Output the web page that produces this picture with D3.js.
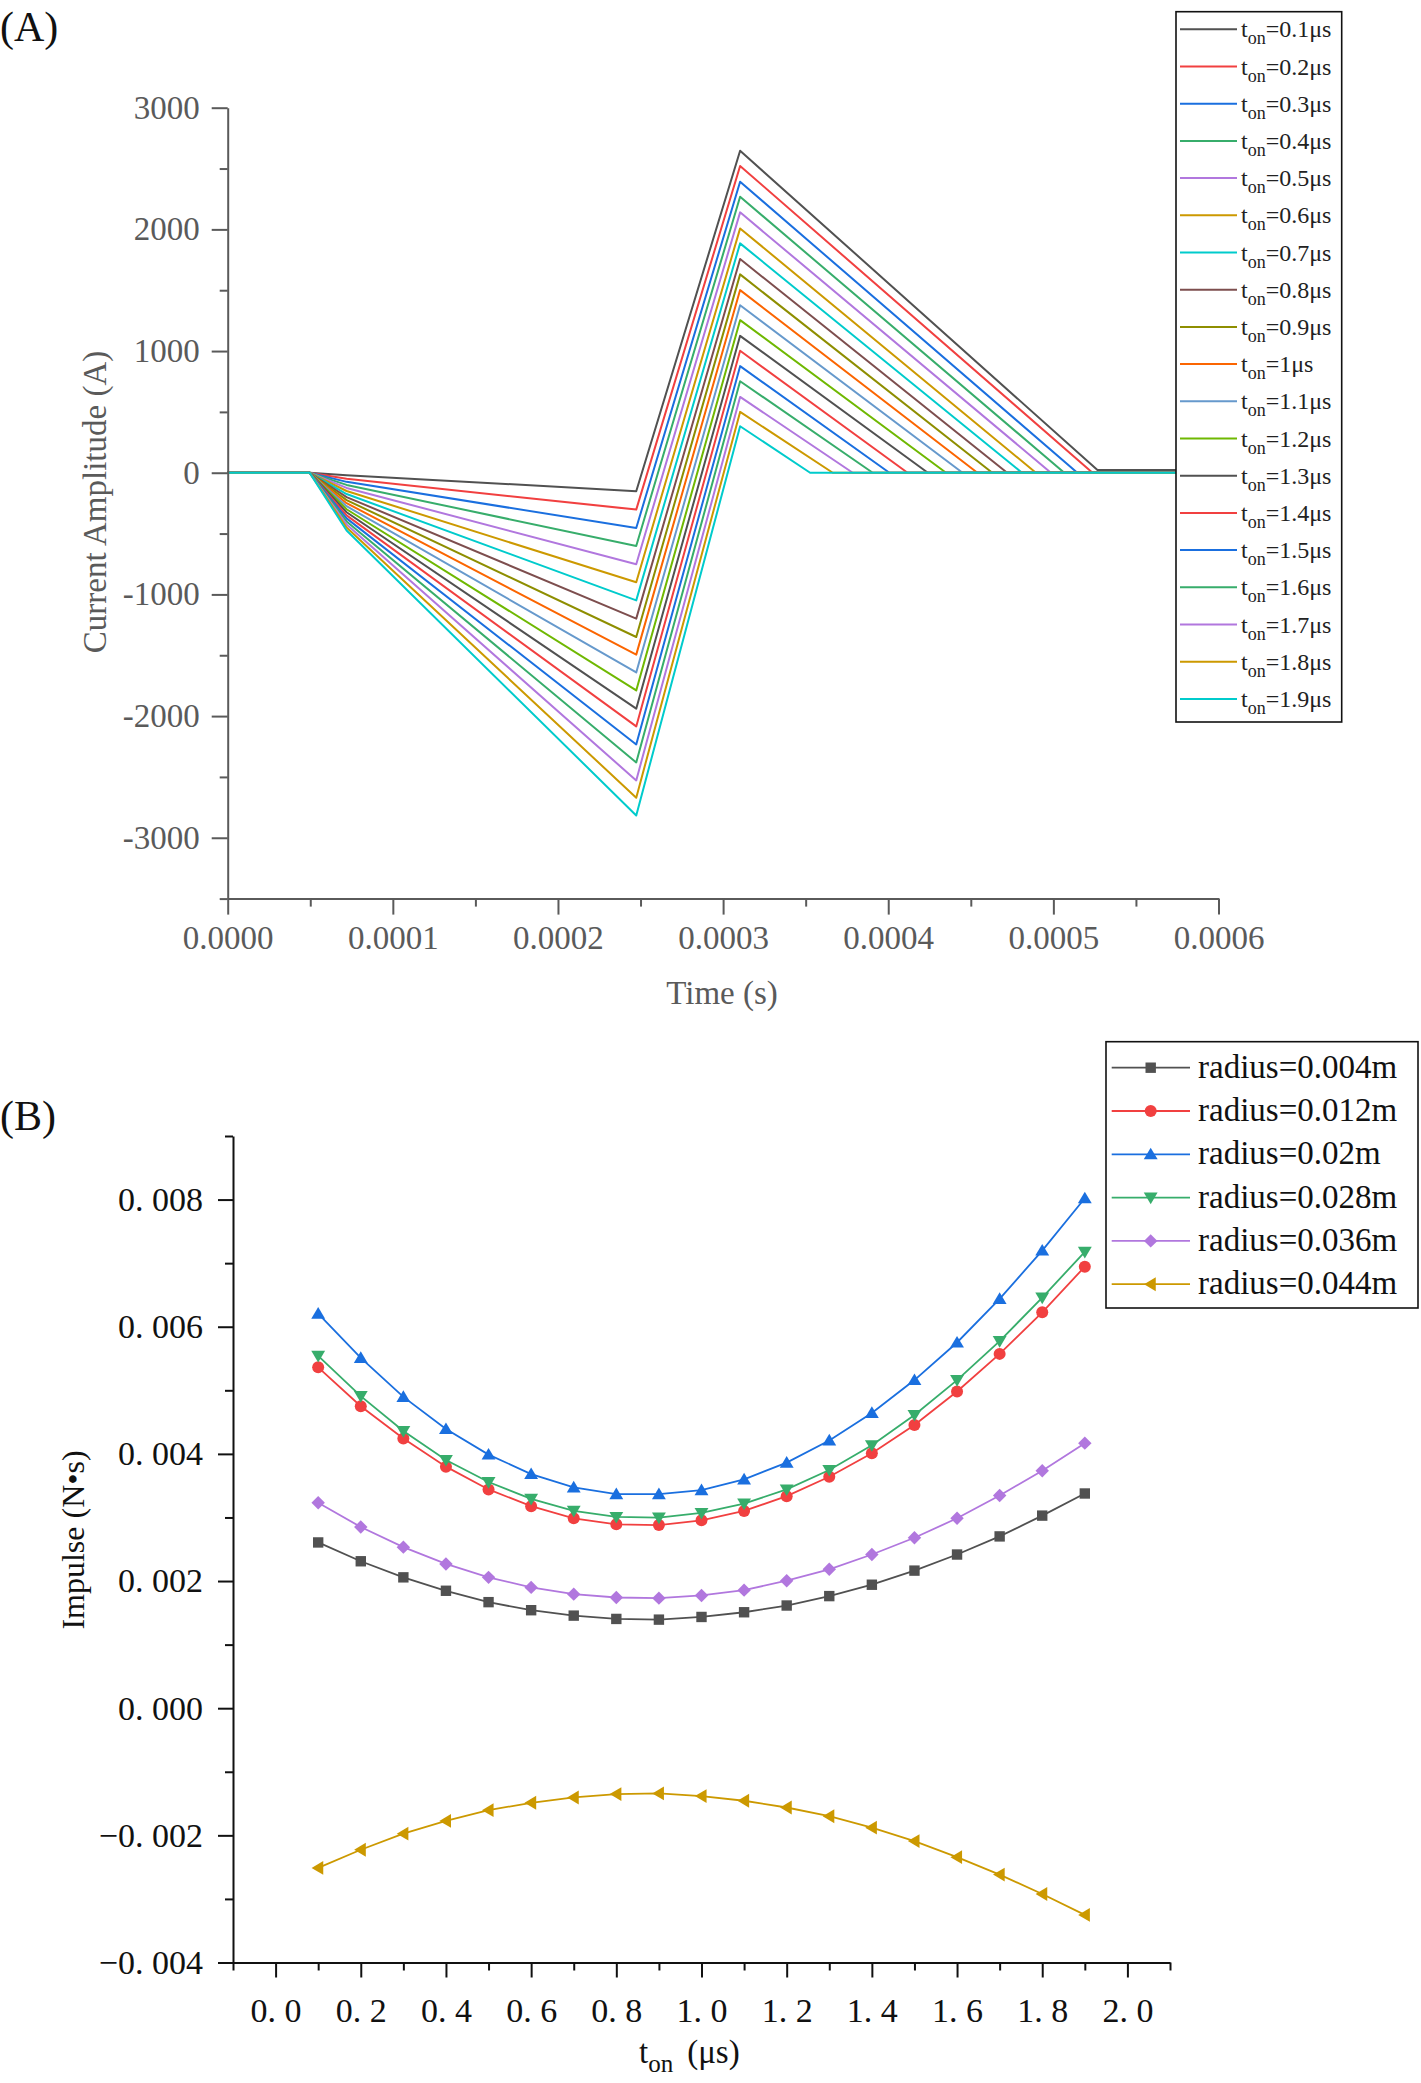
<!DOCTYPE html>
<html><head><meta charset="utf-8">
<script src="https://cdn.jsdelivr.net/npm/d3@7"></script>
<style>
body{margin:0;background:#fff}
svg{display:block}
text{font-family:"Liberation Serif","Times New Roman",serif}
</style>
</head><body>
<svg id="c" width="1421" height="2083"></svg>
<script>
// ---------- shared palette (Origin default line colours) ----------
const palette = ["#515151","#F14040","#1A6FDF","#37AD6B","#B177DE","#CC9900","#00CBCC","#7D4E4E","#8E8E00","#FB6501","#6699CC","#6FB802"];

// ---------- Panel A data ----------
const tonLabelsA = ["0.1","0.2","0.3","0.4","0.5","0.6","0.7","0.8","0.9","1","1.1","1.2","1.3","1.4","1.5","1.6","1.7","1.8","1.9"];
const onsetTime = 0.0000496;
const kneeTime = 0.000072;
const bottomTime = 0.0002474;
const peakTime = 0.0003103;
const lastTime = 0.0006;
const kneeCurrent = [-20,-50,-75,-100,-125,-150,-175,-200,-225,-250,-275,-300,-325,-350,-375,-400,-425,-450,-475];
const minCurrent  = [-152,-303,-454,-602,-752,-900,-1049,-1199,-1350,-1495,-1641,-1789,-1939,-2085,-2233,-2381,-2529,-2671,-2817];
const peakCurrent = [2646,2521,2391,2268,2140,2008,1885,1756,1630,1501,1377,1254,1125,1002,876,752,623,500,382];
const zeroTime    = [0.0005267,0.0005237,0.0005145,0.0005066,0.0004985,0.0004894,0.0004810,0.0004720,0.0004630,0.0004540,0.0004450,0.0004350,0.0004240,0.0004117,0.0004007,0.0003906,0.0003785,0.0003664,0.0003527];
const tailCurrent = [22,0,0,0,0,0,0,0,0,0,0,0,0,0,0,0,0,0,0];
const xTicksA = [0,0.0001,0.0002,0.0003,0.0004,0.0005,0.0006];
const xMinorA = [0.00005,0.00015,0.00025,0.00035,0.00045,0.00055];
const yTicksA = [-3000,-2000,-1000,0,1000,2000,3000];
const yMinorA = [-3500,-2500,-1500,-500,500,1500,2500];

// ---------- Panel B data ----------
const tonB = [0.1,0.2,0.3,0.4,0.5,0.6,0.7,0.8,0.9,1.0,1.1,1.2,1.3,1.4,1.5,1.6,1.7,1.8,1.9];
const radiusLabels = ["radius=0.004m","radius=0.012m","radius=0.02m","radius=0.028m","radius=0.036m","radius=0.044m"];
const impulseR004 = [0.002607,0.002311,0.002058,0.001847,0.001668,0.001541,0.001456,0.001404,0.001393,0.001435,0.001509,0.001615,0.001763,0.001942,0.002164,0.002417,0.002702,0.003029,0.003377];
const impulseR012 = [0.005362,0.004749,0.004243,0.003799,0.003441,0.003177,0.002987,0.002892,0.002881,0.002955,0.003103,0.003335,0.003641,0.004011,0.004454,0.004982,0.005573,0.006227,0.006945];
const impulseR020 = [0.006206,0.005509,0.004897,0.004391,0.003989,0.003683,0.003472,0.003367,0.003367,0.003430,0.003599,0.003863,0.004211,0.004644,0.005161,0.005752,0.006438,0.007198,0.008021];
const impulseR028 = [0.005541,0.004908,0.004359,0.003905,0.003557,0.003293,0.003103,0.003008,0.002997,0.003071,0.003219,0.003441,0.003747,0.004137,0.004612,0.005161,0.005773,0.006459,0.007177];
const impulseR036 = [0.003230,0.002850,0.002533,0.002269,0.002058,0.001900,0.001794,0.001741,0.001731,0.001773,0.001857,0.002005,0.002185,0.002417,0.002681,0.002987,0.003346,0.003736,0.004169];
const impulseR044 = [-0.002512,-0.002227,-0.001974,-0.001773,-0.001604,-0.001488,-0.001404,-0.001351,-0.001340,-0.001383,-0.001456,-0.001562,-0.001699,-0.001879,-0.002090,-0.002343,-0.002617,-0.002923,-0.003251];
const markerShapes = ["square","circle","triangleUp","triangleDown","diamond","triangleLeft"];
const xTicksB = [0,0.2,0.4,0.6,0.8,1.0,1.2,1.4,1.6,1.8,2.0];
const xMinorB = [-0.1,0.1,0.3,0.5,0.7,0.9,1.1,1.3,1.5,1.7,1.9,2.1];
const yTicksB = [-0.004,-0.002,0,0.002,0.004,0.006,0.008];
const yMinorB = [-0.003,-0.001,0.001,0.003,0.005,0.007,0.009];

const svg = d3.select("#c");

// ================= PANEL A =================
const axA = "#5a5a5a";
const xA = d3.scaleLinear().domain([0,0.0006]).range([227.7,1218.5]);
const yA = d3.scaleLinear().domain([-3500,3000]).range([898.6,107.7]);

svg.append("text").attr("x",0).attr("y",41).attr("font-size",42).attr("fill","#111").text("(A)");

const gA = svg.append("g");
const seriesA = tonLabelsA.map((lab,i)=>[
  [0,0],[onsetTime,0],[kneeTime,kneeCurrent[i]],[bottomTime,minCurrent[i]],
  [peakTime,peakCurrent[i]],[zeroTime[i],tailCurrent[i]],[lastTime,tailCurrent[i]]
]);
const lineA = d3.line().x(d=>xA(d[0])).y(d=>yA(d[1]));
seriesA.forEach((pts,i)=>{
  gA.append("path").attr("d",lineA(pts)).attr("fill","none")
    .attr("stroke",palette[i%12]).attr("stroke-width",2).attr("stroke-linejoin","round");
});

function styleAxis(g,color,fs){
  g.select(".domain").attr("stroke",color).attr("stroke-width",2);
  g.selectAll(".tick line").attr("stroke",color).attr("stroke-width",2);
  g.selectAll(".tick text").attr("fill",color).attr("font-size",fs)
    .attr("font-family","'Liberation Serif','Times New Roman',serif");
}
// A axes
const yAxA = svg.append("g").attr("transform",`translate(${xA(0)},0)`)
  .call(d3.axisLeft(yA).tickValues(yTicksA).tickSize(16).tickSizeOuter(0).tickPadding(12).tickFormat(d=>String(d)));
styleAxis(yAxA,axA,33);
const yAxAm = svg.append("g").attr("transform",`translate(${xA(0)},0)`)
  .call(d3.axisLeft(yA).tickValues(yMinorA).tickSize(8).tickSizeOuter(0).tickFormat(""));
styleAxis(yAxAm,axA,33); yAxAm.select(".domain").remove();
const xAxA = svg.append("g").attr("transform",`translate(0,${yA(-3500)})`)
  .call(d3.axisBottom(xA).tickValues(xTicksA).tickSize(16).tickSizeOuter(0).tickPadding(11).tickFormat(d=>d.toFixed(4)));
styleAxis(xAxA,axA,33);
const xAxAm = svg.append("g").attr("transform",`translate(0,${yA(-3500)})`)
  .call(d3.axisBottom(xA).tickValues(xMinorA).tickSize(8).tickSizeOuter(0).tickFormat(""));
styleAxis(xAxAm,axA,33); xAxAm.select(".domain").remove();

svg.append("text").attr("x",722).attr("y",1004).attr("text-anchor","middle")
  .attr("font-size",33).attr("fill",axA).text("Time (s)");
svg.append("text").attr("transform","translate(106,502) rotate(-90)").attr("text-anchor","middle")
  .attr("font-size",33).attr("fill",axA).text("Current Amplitude (A)");

// A legend
const legA = svg.append("g");
const legAy = d3.scaleLinear().domain([0,18]).range([29.3,698.9]);
legA.append("rect").attr("x",1176).attr("y",11.7).attr("width",165.7).attr("height",710.3)
  .attr("fill","#fff").attr("stroke","#111").attr("stroke-width",1.6);
tonLabelsA.forEach((lab,i)=>{
  const y = legAy(i);
  legA.append("line").attr("x1",1180).attr("x2",1237).attr("y1",y).attr("y2",y)
    .attr("stroke",palette[i%12]).attr("stroke-width",2);
  const t = legA.append("text").attr("x",1241).attr("y",y+8).attr("font-size",24).attr("fill","#222");
  t.append("tspan").text("t");
  t.append("tspan").attr("font-size",18).attr("dy",7).text("on");
  t.append("tspan").attr("dy",-7).text("=" + lab + "μs");
});

// ================= PANEL B =================
const xB = d3.scaleLinear().domain([-0.1,2.1]).range([233,1170]);
const yB = d3.scaleLinear().domain([-0.004,0.009]).range([1962.5,1136]);

svg.append("text").attr("x",0).attr("y",1130).attr("font-size",42).attr("fill","#111").text("(B)");

const seriesB = [impulseR004,impulseR012,impulseR020,impulseR028,impulseR036,impulseR044];

function markerPath(shape,r){
  switch(shape){
    case "square": return `M${-r},${-r}H${r}V${r}H${-r}Z`;
    case "circle": return d3.symbol(d3.symbolCircle, Math.PI*r*r)();
    case "triangleUp": return `M0,${-r*1.05}L${r*1.1},${r*0.8}L${-r*1.1},${r*0.8}Z`;
    case "triangleDown": return `M0,${r*1.05}L${r*1.1},${-r*0.8}L${-r*1.1},${-r*0.8}Z`;
    case "diamond": return `M0,${-r*1.2}L${r*1.2},0L0,${r*1.2}L${-r*1.2},0Z`;
    case "triangleLeft": return `M${-r*1.05},0L${r*0.8},${-r*1.1}L${r*0.8},${r*1.1}Z`;
  }
}
const markerR = [5.2,6,6.3,6.3,5.6,6.3];

const gB = svg.append("g");
const lineB = d3.line().x((d,i)=>xB(tonB[i])).y(d=>yB(d));
seriesB.forEach((vals,k)=>{
  const col = palette[k];
  gB.append("path").attr("d",lineB(vals)).attr("fill","none").attr("stroke",col).attr("stroke-width",1.8);
  gB.selectAll(null).data(vals).enter().append("path")
    .attr("d",markerPath(markerShapes[k],markerR[k]))
    .attr("transform",(d,i)=>`translate(${xB(tonB[i])},${yB(d)})`)
    .attr("fill",col);
});

// B axes
const fmtY = d => (d<0?"\u2212":"") + "0. " + Math.abs(d).toFixed(3).slice(2);
const fmtX = d => d.toFixed(1).replace(".",". ");
const yAxB = svg.append("g").attr("transform",`translate(${xB(-0.1)},0)`)
  .call(d3.axisLeft(yB).tickValues(yTicksB).tickSize(15).tickSizeOuter(0).tickPadding(15).tickFormat(fmtY));
styleAxis(yAxB,"#111",34);
const yAxBm = svg.append("g").attr("transform",`translate(${xB(-0.1)},0)`)
  .call(d3.axisLeft(yB).tickValues(yMinorB).tickSize(8).tickSizeOuter(0).tickFormat(""));
styleAxis(yAxBm,"#111",34); yAxBm.select(".domain").remove();
const xAxB = svg.append("g").attr("transform",`translate(0,${yB(-0.004)})`)
  .call(d3.axisBottom(xB).tickValues(xTicksB).tickSize(15).tickSizeOuter(0).tickPadding(20).tickFormat(fmtX));
styleAxis(xAxB,"#111",34);
const xAxBm = svg.append("g").attr("transform",`translate(0,${yB(-0.004)})`)
  .call(d3.axisBottom(xB).tickValues(xMinorB).tickSize(8).tickSizeOuter(0).tickFormat(""));
styleAxis(xAxBm,"#111",34); xAxBm.select(".domain").remove();

const tB = svg.append("text").attr("x",639).attr("y",2063).attr("font-size",33).attr("fill","#111");
tB.append("tspan").text("t");
tB.append("tspan").attr("font-size",25).attr("dy",9).text("on");
tB.append("tspan").attr("dy",-9).attr("dx",14).text("(μs)");
svg.append("text").attr("transform","translate(84,1540) rotate(-90)").attr("text-anchor","middle")
  .attr("font-size",32).attr("fill","#111").text("Impulse (N•s)");

// B legend
const legB = svg.append("g");
const legBy = d3.scaleLinear().domain([0,5]).range([1067.7,1284.2]);
legB.append("rect").attr("x",1106).attr("y",1041.7).attr("width",312).attr("height",266.3)
  .attr("fill","#fff").attr("stroke","#111").attr("stroke-width",1.6);
radiusLabels.forEach((lab,k)=>{
  const y = legBy(k);
  legB.append("line").attr("x1",1111.7).attr("x2",1190).attr("y1",y).attr("y2",y)
    .attr("stroke",palette[k]).attr("stroke-width",1.8);
  legB.append("path").attr("d",markerPath(markerShapes[k],markerR[k]))
    .attr("transform",`translate(1150.7,${y})`).attr("fill",palette[k]);
  legB.append("text").attr("x",1198).attr("y",y+10).attr("font-size",33).attr("fill","#111").text(lab);
});
</script>
</body></html>
